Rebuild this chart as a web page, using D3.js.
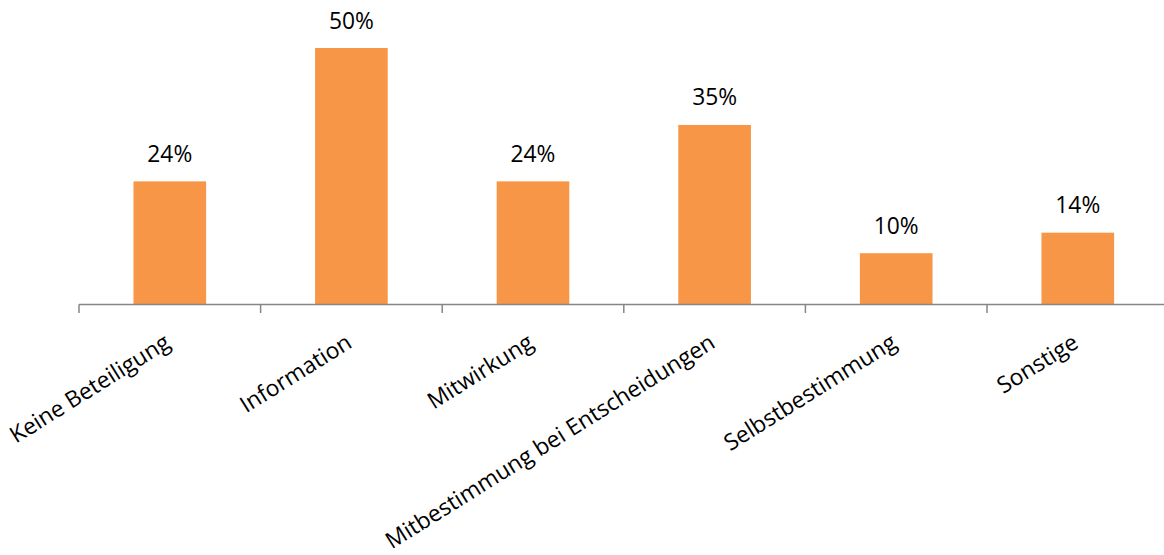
<!DOCTYPE html>
<html>
<head>
<meta charset="utf-8">
<script src="https://cdn.jsdelivr.net/npm/d3@7"></script>
<style>
  html, body { margin: 0; padding: 0; background: #ffffff; }
  svg { display: block; }
  text { font-family: "Open Sans", "Noto Sans", sans-serif; fill: #000; }
</style>
</head>
<body>
<svg id="chart" width="1164" height="555"></svg>
<script>
// Beteiligungsformen (Anteil in Prozent)
const categories = [
  "Keine Beteiligung",
  "Information",
  "Mitwirkung",
  "Mitbestimmung bei Entscheidungen",
  "Selbstbestimmung",
  "Sonstige"
];
const values = [24, 50, 24, 35, 10, 14];

const svg = d3.select("#chart");

const plot = { left: 79, right: 1168.6, top: 48, bottom: 304.5 };

const x = d3.scaleBand()
  .domain(categories)
  .range([plot.left, plot.right])
  .paddingInner(0.6)
  .paddingOuter(0.3);

const y = d3.scaleLinear()
  .domain([0, 50])
  .range([plot.bottom, plot.top]);

// Bars
svg.append("g")
  .selectAll("rect")
  .data(categories)
  .join("rect")
  .attr("x", d => x(d))
  .attr("y", (d, i) => y(values[i]))
  .attr("width", x.bandwidth())
  .attr("height", (d, i) => y(0) - y(values[i]))
  .attr("fill", "#F79646");

// Value labels
svg.append("g")
  .selectAll("text")
  .data(categories)
  .join("text")
  .attr("x", d => x(d) + x.bandwidth() / 2)
  .attr("y", (d, i) => y(values[i]) - 19.5)
  .attr("text-anchor", "middle")
  .style("font-size", "22.8px")
  .text((d, i) => values[i] + "%");

// Category axis: baseline with ticks between categories
const axis = svg.append("g");
axis.append("line")
  .attr("x1", plot.left)
  .attr("x2", plot.right)
  .attr("y1", y(0))
  .attr("y2", y(0))
  .attr("stroke", "#868686")
  .attr("stroke-width", 1.5);

const step = x.step();
axis.selectAll("line.tick")
  .data(d3.range(categories.length + 1))
  .join("line")
  .attr("class", "tick")
  .attr("x1", i => plot.left + i * step)
  .attr("x2", i => plot.left + i * step)
  .attr("y1", y(0))
  .attr("y2", y(0) + 8.5)
  .attr("stroke", "#868686")
  .attr("stroke-width", 1.5);

// Rotated category labels
axis.selectAll("text")
  .data(categories)
  .join("text")
  .attr("transform", d => `translate(${x(d) + x.bandwidth() / 2 + 2},${y(0) + 42}) rotate(-32)`)
  .attr("text-anchor", "end")
  .style("font-size", "22.8px")
  .text(d => d);
</script>
</body>
</html>
